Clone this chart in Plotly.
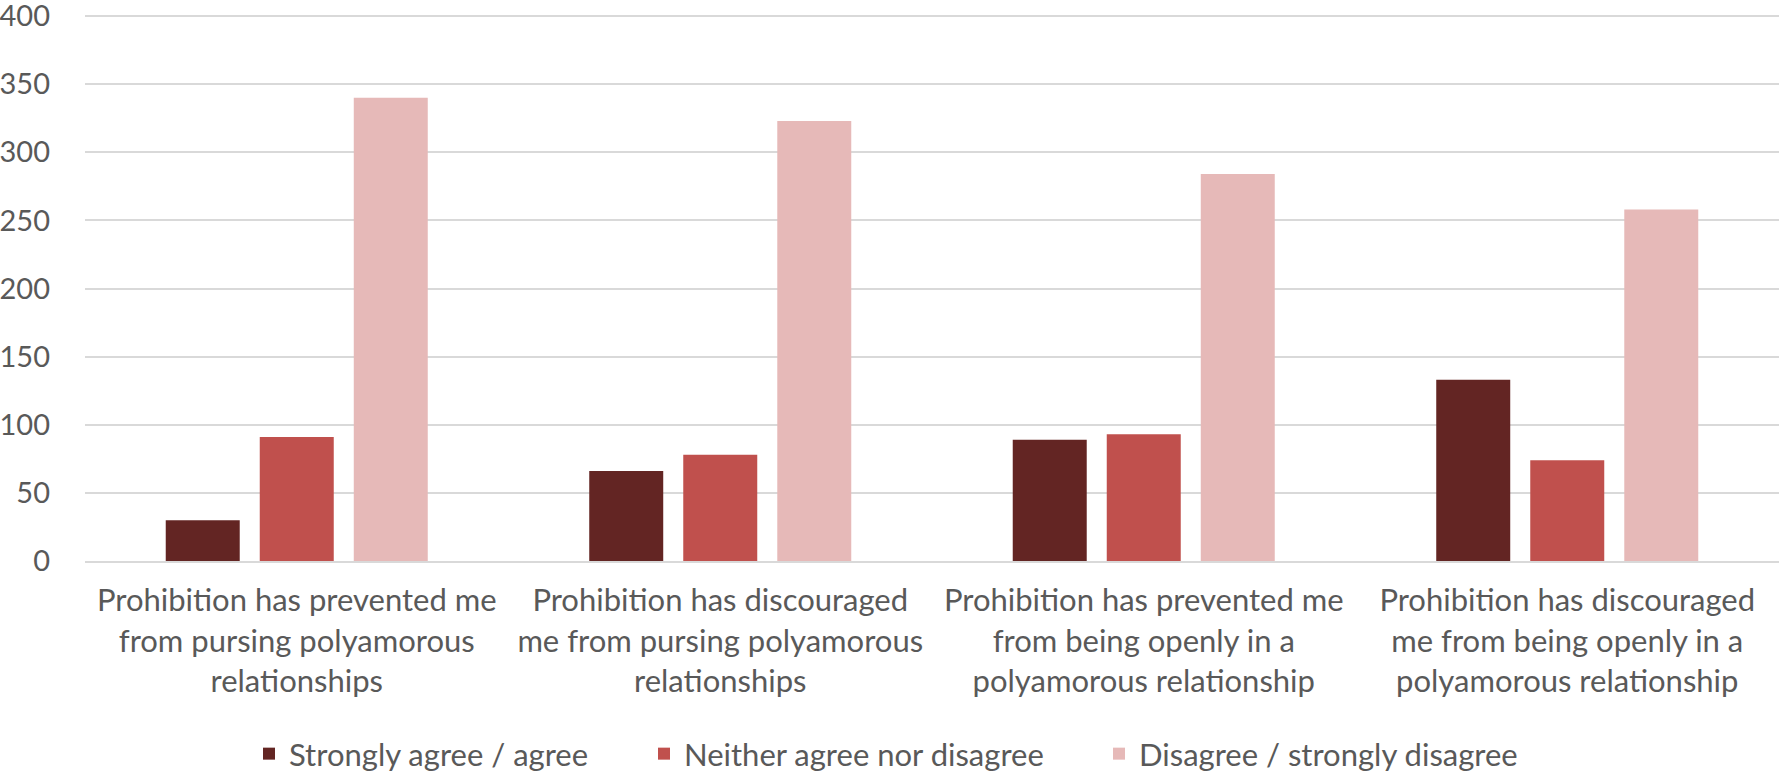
import plotly.graph_objects as go

categories = [
    "Prohibition has prevented me<br>from pursing polyamorous<br>relationships",
    "Prohibition has discouraged<br>me from pursing polyamorous<br>relationships",
    "Prohibition has prevented me<br>from being openly in a<br>polyamorous relationship",
    "Prohibition has discouraged<br>me from being openly in a<br>polyamorous relationship",
]
series_names = ["Strongly agree / agree", "Neither agree nor disagree", "Disagree / strongly disagree"]
agree = [30, 66, 89, 133]
neither = [91, 78, 93, 74]
disagree = [340, 323, 284, 258]
y_ticks = [0, 50, 100, 150, 200, 250, 300, 350, 400]

colors = ["#632523", "#C0504D", "#E6B9B8"]
FONT = "Lato"
TXT = "#595959"
FS = 31
legend_ids = ["legend", "legend2", "legend3"]
legend_x = [249, 644, 1099]

fig = go.Figure()
for name, vals, col, lid in zip(series_names, [agree, neither, disagree], colors, legend_ids):
    fig.add_trace(go.Bar(x=categories, y=vals, name=name, legend=lid,
                         marker=dict(color=col, line=dict(width=0))))

legends = {}
for lid, lx in zip(legend_ids, legend_x):
    legends[lid] = dict(orientation="h", xref="container", yref="container",
                        x=lx / 1779, xanchor="left", y=1 - 754 / 776, yanchor="middle",
                        bgcolor="rgba(0,0,0,0)",
                        font=dict(family=FONT, size=FS, color=TXT))

fig.update_layout(
    width=1779, height=776,
    barmode="group", bargap=0.334, bargroupgap=0.213,
    paper_bgcolor="white", plot_bgcolor="white",
    margin=dict(l=85, r=0, t=14, b=215, autoexpand=False),
    font=dict(family=FONT, size=FS, color=TXT),
    showlegend=True,
    **legends,
)
fig.update_yaxes(range=[0, 401.5], tickvals=y_ticks, showgrid=True, gridcolor="#D9D9D9", gridwidth=2,
                 zeroline=False, showline=False, ticklabelstandoff=34, ticklabeloverflow="allow",
                 automargin=False, tickfont=dict(family=FONT, size=29, color=TXT))
fig.update_xaxes(showline=True, linecolor="#D9D9D9", linewidth=2, automargin=False,
                 ticklabeloverflow="allow",
                 tickfont=dict(family=FONT, size=FS, color=TXT), ticklabelstandoff=11)

fig.write_html("out.html", config={"displayModeBar": False},
               post_script="document.body.style.margin='0';document.body.style.padding='0';")
